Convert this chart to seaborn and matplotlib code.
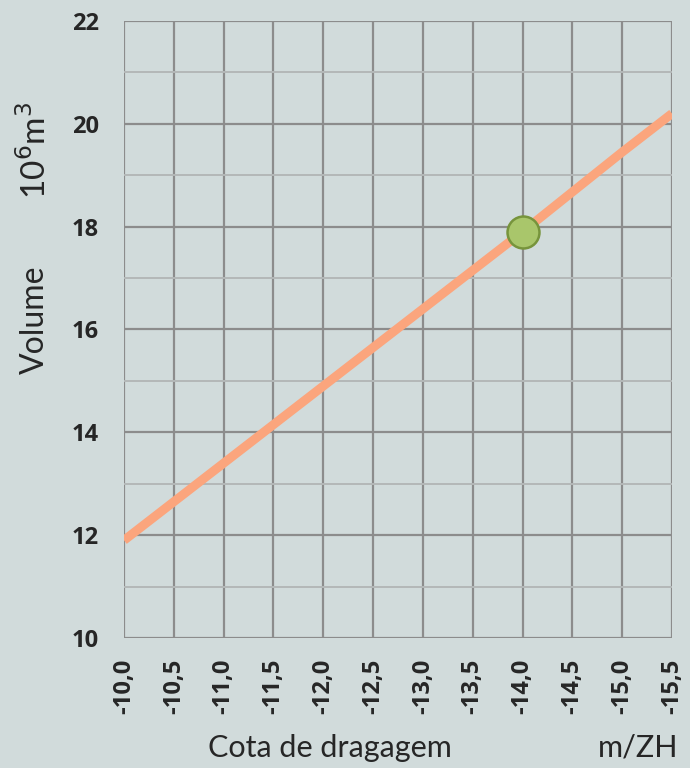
import numpy as np
import pandas as pd
import matplotlib
matplotlib.use("Agg")
import matplotlib.pyplot as plt
import seaborn as sns

# --- data ---
cota = [-10.0, -11.0, -12.0, -13.0, -14.0, -15.0, -15.5]
volume = [11.9, 13.4, 14.9, 16.4, 17.9, 19.45, 20.2]
ponto_cota = [-14.0]
ponto_volume = [17.9]
xticks = [-10.0, -10.5, -11.0, -11.5, -12.0, -12.5, -13.0, -13.5, -14.0, -14.5, -15.0, -15.5]
yticks = [10, 12, 14, 16, 18, 20, 22]

bg = "#D1DBDB"
sns.set_theme(style="white")
plt.rcParams["font.family"] = ["Lato", "DejaVu Sans"]

df = pd.DataFrame({"cota": cota, "volume": volume})
pt = pd.DataFrame({"cota": ponto_cota, "volume": ponto_volume})

fig = plt.figure(figsize=(6.9, 7.68), dpi=100, facecolor=bg)
ax = fig.add_axes([124 / 690, 1 - 638 / 768, (672 - 124) / 690, (638 - 21) / 768])
ax.set_facecolor(bg)

# grid
for x in xticks:
    ax.axvline(x, color="#8C8C8C", lw=1.6, zorder=1)
for y in range(10, 23):
    if y % 2 == 0:
        ax.axhline(y, color="#8C8C8C", lw=1.6, zorder=1)
    else:
        ax.axhline(y, color="#B4B8B8", lw=1.4, zorder=1)

sns.lineplot(data=df, x="cota", y="volume", ax=ax, color="#FBA57D", lw=6.5,
             solid_capstyle="butt", zorder=3)
ax.plot(pt["cota"], pt["volume"], "o", ms=23, mfc="#A9C66B", mec="#77943C", mew=1.8, zorder=4)

tick_font = dict(family=["Open Sans", "DejaVu Sans"], size=17, weight="bold")
ax.set_xlim(-10.0, -15.5)
ax.set_ylim(10, 22)
ax.set_xticks(xticks)
ax.set_xticklabels([f"{v:.1f}".replace(".", ",") for v in xticks], rotation=90, fontdict=tick_font)
ax.set_yticks(yticks)
ax.set_yticklabels([str(v) for v in yticks], fontdict=tick_font)
ax.tick_params(axis="both", direction="out", length=6, width=1.6, color="#8C8C8C")
ax.tick_params(axis="x", pad=9)
ax.tick_params(axis="y", pad=12)
for s in ax.spines.values():
    s.set_visible(False)
ax.set_xlabel("")
ax.set_ylabel("")

fig.text(35 / 690, 1 - 320 / 768, "Volume", rotation=90, fontsize=23, ha="center", va="center")
fig.text(35 / 690, 1 - 150 / 768, "10$^6$m$^3$", rotation=90, fontsize=24, ha="center", va="center")
fig.text(330 / 690, 1 - 748 / 768, "Cota de dragagem", fontsize=22, ha="center", va="center")
fig.text(638 / 690, 1 - 748 / 768, "m/ZH", fontsize=22, ha="center", va="center")

fig.savefig("out.png", dpi=100, facecolor=bg)
